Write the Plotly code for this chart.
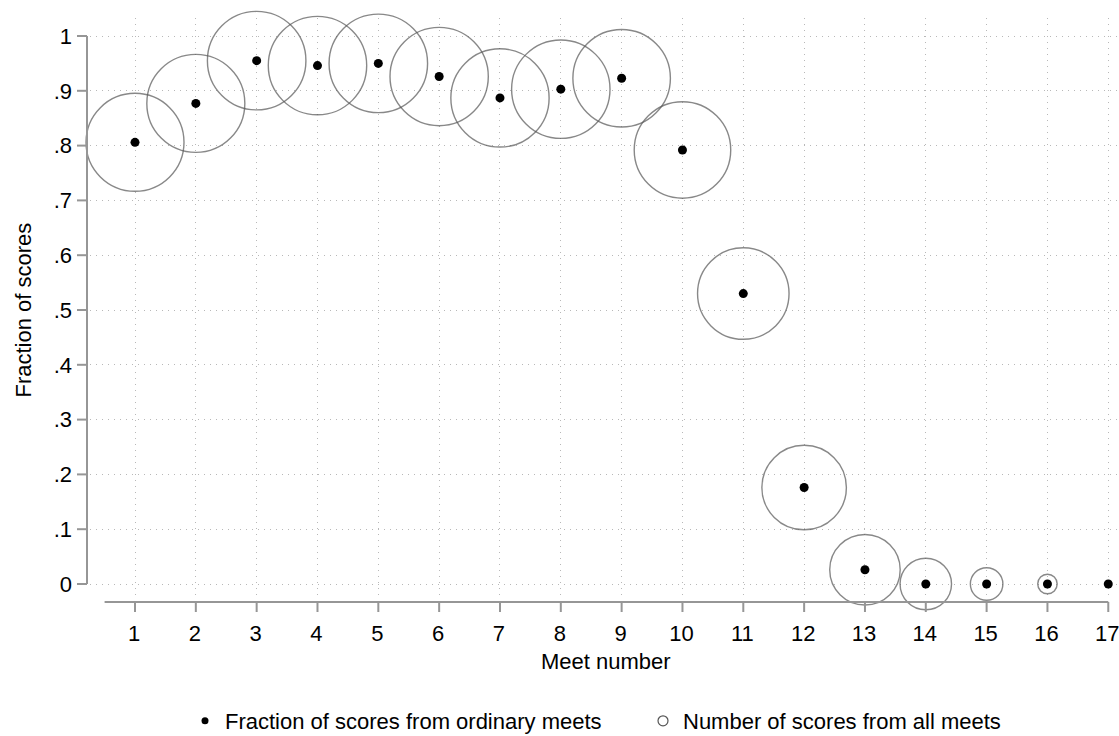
import plotly.graph_objects as go

# ---- data ----
meet = list(range(1, 18))
frac_ordinary = [0.806, 0.877, 0.955, 0.946, 0.950, 0.926, 0.887, 0.903, 0.923,
                 0.792, 0.530, 0.176, 0.026, 0.0, 0.0, 0.0, 0.0]
n_scores_all = [990, 990, 1000, 998, 1000, 996, 995, 998, 980,
                960, 863, 736, 512, 273, 109, 39, 3]
x_tickvals = list(range(1, 18))
y_tickvals = [0, 0.1, 0.2, 0.3, 0.4, 0.5, 0.6, 0.7, 0.8, 0.9, 1.0]
y_ticktext = ["0", ".1", ".2", ".3", ".4", ".5", ".6", ".7", ".8", ".9", "1"]

# ---- layout geometry ----
W, H = 1119, 736
ml, mr, mt, mb = 90, 0, 18, 141
pw, ph = W - ml - mr, H - mt - mb
FONT = "Liberation Sans, Arial, sans-serif"
FS = 22
AXIS_COL = "#969696"
GRID_COL = "#b8b8b8"
CIRC_COL = "#555555"


def px_x(px):
    return (px - ml) / pw


def px_y(py):
    return (H - mb - py) / ph


max_diam = 98.5
sizeref = 2.0 * max(n_scores_all) / max_diam ** 2

fig = go.Figure()

fig.add_trace(go.Scatter(
    x=meet, y=frac_ordinary, mode="markers",
    marker=dict(symbol="circle-open", size=n_scores_all, sizemode="area",
                sizeref=sizeref, color=CIRC_COL, line=dict(width=1.4, color=CIRC_COL)),
    cliponaxis=False, showlegend=False, hoverinfo="skip",
))
fig.add_trace(go.Scatter(
    x=meet, y=frac_ordinary, mode="markers",
    marker=dict(symbol="circle", size=9, color="black"),
    cliponaxis=False, showlegend=False,
))
# legend entries
fig.add_trace(go.Scatter(
    x=[None], y=[None], mode="markers",
    marker=dict(symbol="circle", size=7, color="black"),
    name="Fraction of scores from ordinary meets",
))
fig.add_trace(go.Scatter(
    x=[None], y=[None], mode="markers",
    marker=dict(symbol="circle-open", size=10, color=CIRC_COL, line=dict(width=1.2, color=CIRC_COL)),
    name="Number of scores from all meets",
))

shapes = []
# y axis line and ticks
shapes.append(dict(type="line", xref="paper", yref="y", x0=px_x(87), x1=px_x(87),
                   y0=y_tickvals[0], y1=y_tickvals[-1], line=dict(color=AXIS_COL, width=2)))
for v in y_tickvals:
    shapes.append(dict(type="line", xref="paper", yref="y", x0=px_x(77), x1=px_x(87),
                       y0=v, y1=v, line=dict(color=AXIS_COL, width=2)))
# x axis line and ticks
shapes.append(dict(type="line", xref="x", yref="paper", x0=0.5, x1=x_tickvals[-1],
                   y0=px_y(602), y1=px_y(602), line=dict(color=AXIS_COL, width=2)))
for v in x_tickvals:
    shapes.append(dict(type="line", xref="x", yref="paper", x0=v, x1=v,
                       y0=px_y(602), y1=px_y(612), line=dict(color=AXIS_COL, width=2)))

x_lo = 1 + (ml - 135) / 60.83
x_hi = 1 + (W - mr - 135) / 60.83
y_lo = (584 - (H - mb)) / 548
y_hi = (584 - mt) / 548

fig.update_layout(
    width=W, height=H,
    margin=dict(l=ml, r=mr, t=mt, b=mb, autoexpand=False),
    paper_bgcolor="white", plot_bgcolor="white",
    font=dict(family=FONT, size=FS, color="black"),
    xaxis=dict(range=[x_lo, x_hi], tickvals=x_tickvals, ticks="", showline=False,
               zeroline=False, showgrid=True, gridcolor=GRID_COL, griddash="1px,5px",
               gridwidth=1, tickfont=dict(size=FS), ticklabelstandoff=23,
               ticklabelshift=-1, ticklabeloverflow="allow"),
    yaxis=dict(range=[y_lo, y_hi], tickvals=y_tickvals, ticktext=y_ticktext, ticks="",
               showline=False, zeroline=False, showgrid=True, gridcolor=GRID_COL,
               griddash="1px,5px", gridwidth=1, tickfont=dict(size=FS), ticklabelstandoff=17,
               ticklabeloverflow="allow"),
    shapes=shapes,
    annotations=[
        dict(text="Fraction of scores", textangle=-90, xref="paper", yref="y",
             x=px_x(22.5), y=0.5, showarrow=False, xanchor="center", yanchor="middle",
             font=dict(size=FS)),
        dict(text="Meet number", xref="x", yref="paper", x=(0.5 + x_tickvals[-1]) / 2,
             y=px_y(661), showarrow=False, xanchor="center", yanchor="middle",
             font=dict(size=FS)),
    ],
    legend=dict(orientation="h", x=px_x(185), xanchor="left", y=px_y(721),
                yanchor="middle", font=dict(size=FS), bgcolor="rgba(0,0,0,0)",
                itemwidth=30, traceorder="normal", entrywidth=413),
    showlegend=True,
)

fig.write_html("out.html", config={"displayModeBar": False},
               post_script="document.body.style.margin='0';")
